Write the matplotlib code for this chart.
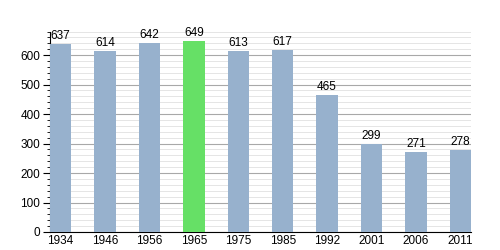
import matplotlib.pyplot as plt
from matplotlib.ticker import MultipleLocator

plt.rcParams['font.family'] = ['Liberation Sans', 'DejaVu Sans']

years = ['1934', '1946', '1956', '1965', '1975', '1985', '1992', '2001', '2006', '2011']
population = [637, 614, 642, 649, 613, 617, 465, 299, 271, 278]
highlight = '1965'

colors = ['#66e066' if y == highlight else '#97b1cd' for y in years]

fig = plt.figure(figsize=(5, 2.5), dpi=100)
ax = fig.add_axes([0.1, 0.072, 0.842, 0.802])

x = range(len(years))
ax.bar(x, population, width=0.48, color=colors, zorder=3)

# valeurs au-dessus des barres
for i, v in enumerate(population):
    ax.text(i, v + 6, str(v), ha='center', va='bottom', fontsize=8.5, zorder=4)

ax.set_xlim(-0.24, 9.24)
ax.set_ylim(0, 680)
ax.set_xticks(list(x))
ax.set_xticklabels(years, fontsize=8.5)
ax.tick_params(axis='x', length=0, pad=2)
ax.yaxis.set_major_locator(MultipleLocator(100))
ax.yaxis.set_minor_locator(MultipleLocator(20))
ax.tick_params(axis='y', which='major', length=5, width=0.8, labelsize=8.5, pad=2)
ax.tick_params(axis='y', which='minor', length=2.5, width=0.6)
ax.grid(axis='y', which='major', color='#a8a8a8', linewidth=0.8, zorder=0)
ax.grid(axis='y', which='minor', color='#e0e0e0', linewidth=0.6, zorder=0)
for side in ['top', 'right']:
    ax.spines[side].set_visible(False)

plt.savefig('out.png', dpi=100)
